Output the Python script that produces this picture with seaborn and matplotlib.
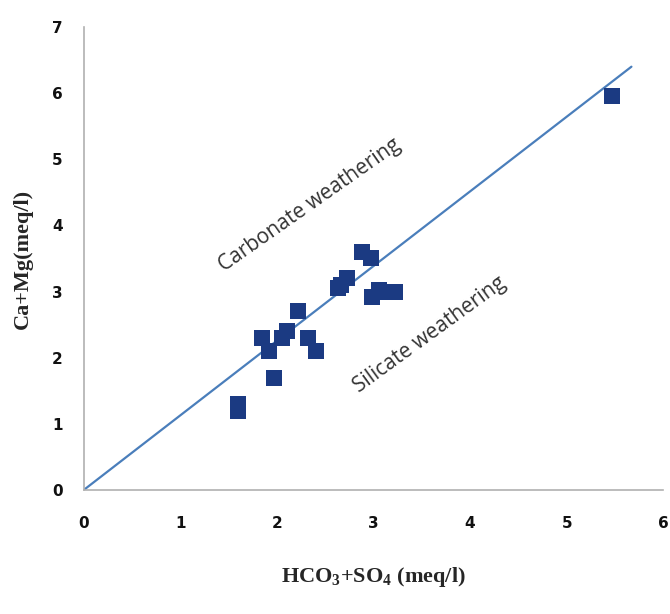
import pandas as pd
import matplotlib.pyplot as plt
import seaborn as sns

# sample values
hco3_so4 = [1.60, 1.60, 1.97, 1.85, 1.92, 2.05, 2.10, 2.22, 2.32, 2.40,
            2.63, 2.66, 2.73, 2.88, 2.97, 2.98, 3.06, 3.15, 3.22, 5.47]
ca_mg = [1.30, 1.20, 1.70, 2.30, 2.10, 2.30, 2.40, 2.70, 2.30, 2.10,
         3.05, 3.10, 3.20, 3.60, 3.50, 2.92, 3.03, 3.00, 3.00, 5.95]

# reference line end points
line_x = [0, 5.67]
line_y = [0, 6.40]

xticks = [0, 1, 2, 3, 4, 5, 6]
yticks = [0, 1, 2, 3, 4, 5, 6, 7]

df = pd.DataFrame({'x': hco3_so4, 'y': ca_mg})
line_df = pd.DataFrame({'x': line_x, 'y': line_y})

sns.set_style('white')
plt.rcParams['mathtext.fontset'] = 'custom'
plt.rcParams['mathtext.rm'] = 'Liberation Serif:bold'
plt.rcParams['mathtext.bf'] = 'Liberation Serif:bold'

fig = plt.figure(figsize=(6.7, 6.14), dpi=100)
ax = fig.add_axes([0.125, 0.202, 0.865, 0.754])

sns.lineplot(data=line_df, x='x', y='y', color='#4a7ebb', linewidth=1.6, ax=ax)
sns.scatterplot(data=df, x='x', y='y', marker='s', s=125, color='#1b3a82',
                edgecolor='#1b3a82', linewidth=0, ax=ax, zorder=3)

ax.set_xlim(0, 6)
ax.set_ylim(0, 7)
ax.set_xticks(xticks)
ax.set_yticks(yticks)
for lab in ax.get_xticklabels() + ax.get_yticklabels():
    lab.set_fontweight('bold')
    lab.set_fontsize(11)
    lab.set_color('#111111')

for side in ['top', 'right']:
    ax.spines[side].set_visible(False)
for side in ['left', 'bottom']:
    ax.spines[side].set_color('#b0b0b0')
    ax.spines[side].set_linewidth(1.2)
ax.tick_params(axis='both', direction='out', length=5, width=1, color='#b0b0b0')
ax.tick_params(axis='x', pad=14)
ax.tick_params(axis='y', pad=10)

ax.text(2.34, 4.3, 'Carbonate weathering', rotation=35, ha='center', va='center',
        fontsize=15, color='#333333', family='Open Sans', rotation_mode='anchor')
ax.text(3.58, 2.35, 'Silicate weathering', rotation=36, ha='center', va='center',
        fontsize=15, color='#333333', family='Open Sans', rotation_mode='anchor')

ax.set_xlabel(r'HCO$_{\mathbf{3}}$+SO$_{\mathbf{4}}$ (meq/l)', fontsize=16, fontweight='bold',
              family='Liberation Serif', labelpad=24)
ax.set_ylabel('Ca+Mg(meq/l)', fontsize=16, fontweight='bold',
              family='Liberation Serif', labelpad=14)

plt.savefig('out.png', dpi=100)
